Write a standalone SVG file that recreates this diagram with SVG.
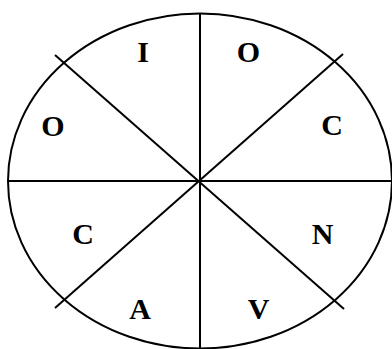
<svg xmlns="http://www.w3.org/2000/svg" width="392" height="349" viewBox="0 0 392 349">
<style>
.l{stroke:#000;stroke-width:2;fill:none}
.t{font-family:"Liberation Serif","Times New Roman",serif;font-weight:bold;font-size:30px;text-anchor:middle;fill:#000}
</style>
<rect width="392" height="349" fill="#fff"/>
<g id="connectors">
<ellipse class="l" cx="200" cy="181" rx="192" ry="167.5"/>
<line class="l" x1="200" y1="13" x2="200" y2="349"/>
<line class="l" x1="8" y1="181" x2="392" y2="181"/>
<line class="l" x1="55" y1="55" x2="344" y2="309"/>
<line class="l" x1="343" y1="54" x2="55" y2="308"/>
</g>
<g id="n-I"><text class="t" x="143" y="62">I</text></g>
<g id="n-O1"><text class="t" x="248.5" y="62">O</text></g>
<g id="n-O2"><text class="t" x="53" y="136">O</text></g>
<g id="n-C1"><text class="t" x="332" y="135">C</text></g>
<g id="n-C2"><text class="t" x="83" y="244">C</text></g>
<g id="n-N"><text class="t" x="322.5" y="244">N</text></g>
<g id="n-A"><text class="t" x="140" y="319">A</text></g>
<g id="n-V"><text class="t" x="258.5" y="319">V</text></g>
</svg>
